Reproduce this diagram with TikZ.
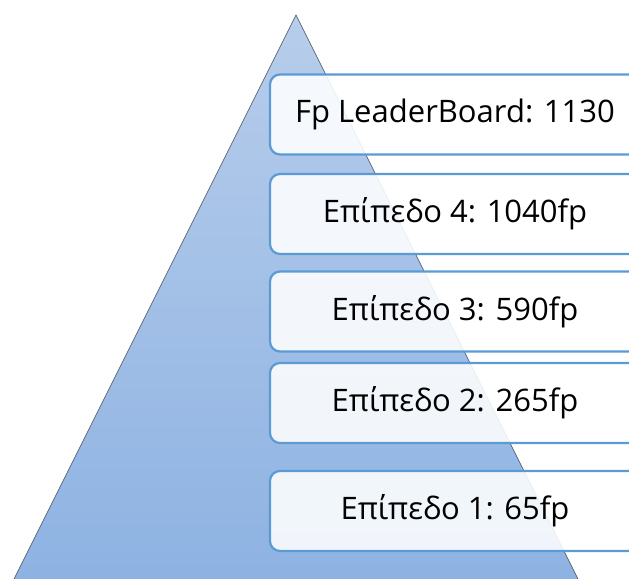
\documentclass[tikz,border=0pt]{standalone}
\usepackage{fontspec}
\setmainfont{Open Sans}
\definecolor{edgeblue}{HTML}{5B9BD5}
\definecolor{pyrtop}{HTML}{B7CDEB}
\definecolor{pyrbot}{HTML}{8DB2E2}
\definecolor{pyrline}{HTML}{3F4A5A}
\tikzset{
  levelbox/.style={draw=edgeblue, line width=2.2bp, fill=white, fill opacity=0.88,
    text opacity=1, rounded corners=10bp, minimum width=370bp, minimum height=80bp,
    inner sep=0pt, font=\fontsize{31bp}{34bp}\selectfont, text=black}
}
\begin{document}
\begin{tikzpicture}[x=1bp,y=-1bp]
  \useasboundingbox (0,0) rectangle (629,579);
  \clip (0,0) rectangle (629,579);
  % pyramid
  \coordinate (apex) at (296,15);
  \coordinate (baseL) at (11,585);
  \coordinate (baseR) at (581,585);
  \shade[top color=pyrtop, bottom color=pyrbot] (apex) -- (baseR) -- (baseL) -- cycle;
  \draw[pyrline, line width=0.6bp] (baseL) -- (apex) -- (baseR);
  % level boxes
  \node[levelbox] (lb) at (455,114.5) {Fp LeaderBoard: 1130};
  \node[levelbox] (l4) at (455,214) {Επίπεδο 4: 1040fp};
  \node[levelbox] (l3) at (455,311.5) {Επίπεδο 3: 590fp};
  \node[levelbox] (l2) at (455,403) {Επίπεδο 2: 265fp};
  \node[levelbox] (l1) at (455,511) {Επίπεδο 1: 65fp};
\end{tikzpicture}
\end{document}
